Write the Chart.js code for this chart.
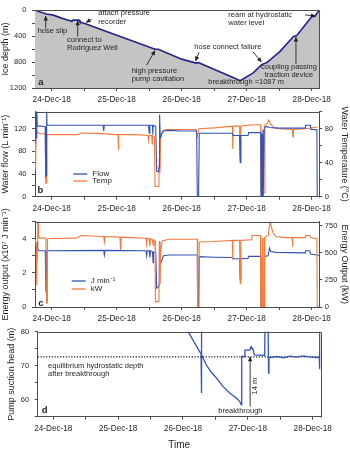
<!DOCTYPE html>
<html><head><meta charset="utf-8">
<script src="https://cdn.jsdelivr.net/npm/chart.js@4/dist/chart.umd.min.js"></script>
<style>
html,body{margin:0;padding:0;background:#fff;}
#wrap{position:relative;width:350px;height:449px;overflow:hidden;background:#fff;}
canvas{position:absolute;left:0;top:0;}
</style></head><body>
<div id="wrap">
<canvas id="ca" width="350" height="449"></canvas>
<canvas id="cb" width="350" height="449"></canvas>
<canvas id="cc" width="350" height="449"></canvas>
<canvas id="cd" width="350" height="449"></canvas>
</div>
<script>
// ---------- DATA (time in days after 24-Dec-18 00:00) ----------
const dayLabels = ['24-Dec-18', '25-Dec-18', '26-Dec-18', '27-Dec-18', '28-Dec-18'];
const halfDayTicks = [0, 0.5, 1, 1.5, 2, 2.5, 3, 3.5, 4];

// (a) ice depth
const depthDays   = [-0.257, -0.2, -0.13, -0.077, 0.025, 0.15, 0.23, 0.31, 0.33, 0.42, 0.435, 0.54, 1.0, 1.56, 1.59, 1.64, 2.0, 2.22, 2.25, 2.28, 2.30, 2.79, 2.9, 2.97, 3.1, 3.23, 3.31, 3.51, 3.72, 3.77, 4.0, 4.05, 4.117];
const depthValues = [0, 22, 46, 62, 79, 125, 149, 173, 155, 155, 183, 219, 390, 593, 602, 605, 756, 817, 810, 815, 828, 1037, 1087, 1046, 967, 840, 808, 640, 406, 394, 103, 95, 0];

// (b) water flow (L/min) and water temperature (degC)
const flowDays   = [-0.257, -0.25, -0.245, -0.24, -0.232, -0.228, -0.222, -0.10, -0.092, -0.085, -0.078, -0.072, 0.79, 0.80, 0.81, 1.49, 1.50, 1.51, 1.55, 1.555, 1.56, 1.60, 1.615, 1.64, 1.655, 1.66, 1.67, 1.68, 1.72, 1.8, 2.0, 2.23, 2.24, 2.26, 2.27, 2.5, 2.78, 2.79, 2.89, 2.9, 2.91, 3.02, 3.03, 3.215, 3.22, 3.23, 3.235, 3.245, 3.25, 3.255, 3.265, 3.27, 3.3, 3.35, 3.5, 3.9, 3.905, 3.98, 3.985, 4.08, 4.085, 4.117];
const flowValues = [105, 100, 155, 105, 104, 155, 125, 124, 36, 38, 155, 126, 126, 116, 126, 126, 112, 126, 126, 110, 126, 124, 45, 44, 53, 145, 104, 108, 116, 117, 116, 116, 0, 0, 112, 112, 112, 108, 108, 60, 108, 108, 113, 113, 0, 110, 0, 0, 118, 0, 0, 122, 124, 122, 121, 121, 126, 126, 119, 118, 0, 0];
const tempDays   = [-0.257, -0.25, -0.245, -0.24, -0.23, -0.22, -0.19, -0.10, -0.09, -0.08, -0.075, 0.0, 0.4, 0.45, 0.7, 1.0, 1.02, 1.025, 1.03, 1.3, 1.48, 1.49, 1.50, 1.54, 1.545, 1.55, 1.58, 1.59, 1.65, 1.655, 1.665, 1.675, 1.7, 1.75, 2.0, 2.22, 2.235, 2.26, 2.27, 2.5, 2.78, 2.785, 2.79, 2.89, 2.9, 2.905, 2.91, 3.0, 3.2, 3.215, 3.22, 3.27, 3.28, 3.32, 3.34, 3.36, 3.42, 3.5, 3.7, 3.715, 3.72, 3.9, 4.0, 4.085];
const tempValues = [77, 75, 32, 78, 77, 76, 74, 74, 16, 16, 73, 73, 73, 75, 74.5, 73, 73, 55, 73, 73, 72, 66, 72, 72, 62, 72, 70, 12, 12, 45, 28, 70, 77, 79, 79, 79, 70, 78, 80, 81, 83, 56, 83, 83, 44, 52, 83, 84, 85, 84, 5, 5, 84, 87, 90, 86, 81, 80, 79, 70, 79, 80, 81, 82];

// (c) energy output (x10^7 J/min) and (kW)
const jDays   = [-0.257, -0.25, -0.245, -0.235, -0.228, -0.22, -0.215, -0.2, -0.10, -0.09, -0.08, -0.075, 0.8, 0.81, 0.82, 1.45, 1.46, 1.47, 1.5, 1.51, 1.52, 1.55, 1.56, 1.565, 1.60, 1.615, 1.65, 1.655, 1.66, 1.665, 1.68, 1.72, 1.8, 2.0, 2.24, 2.245, 2.26, 2.27, 2.5, 2.78, 2.79, 2.89, 2.9, 2.91, 3.02, 3.03, 3.215, 3.22, 3.265, 3.27, 3.33, 3.35, 3.37, 3.45, 3.9, 3.905, 3.97, 3.98, 4.08, 4.117];
const jValues = [2.8, 2.7, 3.1, 2.75, 3.6, 3.85, 3.4, 3.3, 3.3, 1.0, 1.1, 3.3, 3.32, 3.05, 3.32, 3.3, 3.0, 3.3, 3.3, 2.9, 3.3, 3.25, 2.6, 3.2, 3.2, 1.1, 1.2, 1.4, 3.85, 2.6, 2.6, 3.0, 3.05, 3.05, 3.05, 0, 0, 2.95, 2.92, 2.9, 2.83, 2.83, 1.6, 2.83, 2.85, 2.97, 2.97, 0, 0, 2.97, 3.0, 3.45, 3.25, 3.2, 3.17, 3.3, 3.3, 3.1, 3.05, 3.02];
const kwDays   = [-0.257, -0.25, -0.235, -0.23, -0.225, -0.215, -0.21, -0.205, -0.2, -0.19, -0.09, -0.08, -0.07, -0.065, 0.0, 0.38, 0.45, 0.8, 0.81, 0.82, 1.05, 1.06, 1.07, 1.45, 1.46, 1.47, 1.5, 1.51, 1.52, 1.55, 1.56, 1.57, 1.59, 1.595, 1.65, 1.655, 1.665, 1.675, 1.7, 1.8, 2.0, 2.24, 2.245, 2.265, 2.27, 2.5, 2.78, 2.785, 2.79, 2.89, 2.9, 2.91, 3.07, 3.08, 3.21, 3.215, 3.235, 3.24, 3.25, 3.27, 3.275, 3.33, 3.36, 3.37, 3.40, 3.45, 3.6, 3.7, 3.705, 3.71, 3.9, 3.905, 3.97, 3.98, 4.08, 4.085, 4.117];
const kwValues = [620, 600, 590, 200, 600, 820, 640, 800, 660, 635, 635, 35, 40, 630, 632, 635, 660, 650, 600, 650, 645, 526, 645, 635, 580, 635, 630, 560, 630, 620, 570, 620, 610, 50, 50, 590, 205, 500, 610, 625, 625, 625, 0, 0, 600, 605, 615, 435, 615, 615, 214, 615, 620, 660, 660, 0, 0, 640, 0, 0, 640, 660, 787, 770, 690, 650, 640, 640, 556, 640, 640, 660, 660, 640, 630, 0, 0];

// (d) pump suction head (m)
const headDays   = [1.98, 2.07, 2.17, 2.257, 2.278, 2.282, 2.286, 2.29, 2.36, 2.44, 2.514, 2.615, 2.718, 2.822, 2.87, 2.898, 2.905, 2.95, 2.955, 3.03, 3.05, 3.08, 3.10, 3.18, 3.26, 3.265, 3.31, 3.32, 3.325, 3.35, 3.45, 3.55, 3.65, 3.75, 3.85, 3.95, 4.05, 4.10, 4.105, 4.11];
const headValues = [84, 80.3, 77, 74.1, 73.6, 84, 62, 73.2, 70.2, 68.0, 66.4, 63.9, 62.0, 60.5, 59.6, 58.5, 72.7, 72.7, 74.6, 74.6, 75.6, 74.8, 73.2, 73.1, 73.0, 85, 85, 67.8, 72.5, 72.4, 72.7, 72.3, 72.8, 72.5, 72.9, 72.6, 72.4, 72.6, 69, 82];
const equilibriumHead = 72.6;

// ---------- STYLE ----------
const TXT = '#231f20', AX = '#4d4d4d';
const BLUE = '#3453b4', ORANGE = '#f47b3c', NAVY = '#23258a', FILLGRAY = '#c4c4c4';
Chart.defaults.font.family = "'Liberation Sans', Arial, sans-serif";
Chart.defaults.color = TXT;
Chart.defaults.animation = false;

function pts(xs, ys) { return xs.map((x, i) => ({ x: x, y: ys[i] })); }

function xScale(min, max, h, withTitle) {
  return {
    type: 'linear', position: 'bottom', min: min, max: max,
    afterBuildTicks: s => { s.ticks = halfDayTicks.map(v => ({ value: v })); },
    afterFit: s => { s.height = h; },
    ticks: { autoSkip: false, maxRotation: 0, minRotation: 0, padding: 4, color: TXT, font: { size: 8.2 },
      callback: v => (Number.isInteger(v) ? dayLabels[v] : '') },
    grid: { drawOnChartArea: false, drawTicks: true, tickLength: 3, color: AX },
    border: { display: true, color: AX, width: 1 },
    title: withTitle ? { display: true, text: 'Time', color: TXT, font: { size: 10, lineHeight: 1 }, padding: { top: 0, bottom: -1 } } : { display: false }
  };
}
function yScale(pos, min, max, tickVals, labelFn, width, title, titlePad, extra) {
  const o = {
    type: 'linear', position: pos, min: min, max: max,
    afterBuildTicks: s => { s.ticks = tickVals.map(v => ({ value: v })); },
    afterFit: s => { s.width = width; },
    ticks: { autoSkip: false, padding: pos === 'left' ? 5.5 : 2.5, color: TXT, font: { size: 7.5 }, callback: labelFn },
    grid: { drawOnChartArea: false, drawTicks: true, tickLength: 3, color: AX },
    border: { display: true, color: AX, width: 1 },
    title: { display: true, text: title, color: TXT, font: { size: 9 }, padding: { top: titlePad, bottom: 0 } }
  };
  return Object.assign(o, extra || {});
}
const boxPlugin = {
  id: 'box',
  afterDraw(chart) {
    const c = chart.ctx, a = chart.chartArea;
    c.save(); c.strokeStyle = AX; c.lineWidth = 1;
    c.beginPath();
    c.moveTo(Math.round(a.left) + 0.5, Math.round(a.top) + 0.5);
    c.lineTo(Math.round(a.right) + 0.5, Math.round(a.top) + 0.5);
    c.lineTo(Math.round(a.right) + 0.5, Math.round(a.bottom) + 0.5);
    c.stroke(); c.restore();
  }
};
function arrowHead(c, x1, y1, x2, y2) {
  const ang = Math.atan2(y2 - y1, x2 - x1), L = 4.5, W = 2.2;
  c.beginPath();
  c.moveTo(x2, y2);
  c.lineTo(x2 - L * Math.cos(ang) + W * Math.sin(ang), y2 - L * Math.sin(ang) - W * Math.cos(ang));
  c.lineTo(x2 - L * Math.cos(ang) - W * Math.sin(ang), y2 - L * Math.sin(ang) + W * Math.cos(ang));
  c.closePath(); c.fill();
}
function annot(items) {
  return {
    id: 'annot',
    afterDraw(chart) {
      const c = chart.ctx, sx = chart.scales.x, sy = chart.scales.y, a = chart.chartArea;
      c.save();
      items.forEach(it => {
        if (it.kind === 'text') {
          const px = it.rel ? a.left + it.x : sx.getPixelForValue(it.x);
          const py = it.rel ? a.bottom - it.y : sy.getPixelForValue(it.y);
          c.font = (it.bold ? 'bold ' : '') + (it.size || 7.5) + "px 'Liberation Sans', Arial, sans-serif";
          c.fillStyle = TXT; c.textAlign = it.align || 'left'; c.textBaseline = 'middle';
          if (it.rot) { c.save(); c.translate(px, py); c.rotate(it.rot); c.fillText(it.text, 0, 0); c.restore(); }
          else c.fillText(it.text, px, py);
        } else if (it.kind === 'arrow') {
          const x1 = sx.getPixelForValue(it.x1), y1 = sy.getPixelForValue(it.y1);
          const x2 = sx.getPixelForValue(it.x2), y2 = sy.getPixelForValue(it.y2);
          c.strokeStyle = TXT; c.fillStyle = TXT; c.lineWidth = 0.9;
          c.beginPath(); c.moveTo(x1, y1); c.lineTo(x2, y2); c.stroke();
          arrowHead(c, x1, y1, x2, y2);
        } else if (it.kind === 'legend') {
          c.font = "8px 'Liberation Sans', Arial, sans-serif";
          c.textAlign = 'left'; c.textBaseline = 'middle';
          it.rows.forEach((r, i) => {
            const y = a.top + it.y + i * it.dy;
            c.strokeStyle = r.color; c.lineWidth = 1.3;
            c.beginPath(); c.moveTo(a.left + it.x, y); c.lineTo(a.left + it.x + 14, y); c.stroke();
            c.fillStyle = TXT; c.fillText(r.label, a.left + it.x + 19, y);
          });
        }
      });
      c.restore();
    }
  };
}
const lineDs = (label, data, color, axis, w) => ({ label: label, data: data, borderColor: color, borderWidth: w || 1.1, pointRadius: 0, tension: 0, fill: false, yAxisID: axis || 'y' });

// ---------- PANEL A ----------
new Chart(document.getElementById('ca'), {
  type: 'line',
  data: { datasets: [Object.assign(lineDs('Ice depth', pts(depthDays, depthValues), NAVY, 'y', 1.6), { fill: 'start', backgroundColor: FILLGRAY })] },
  options: {
    responsive: false, parsing: true,
    layout: { padding: { top: 2.7, bottom: 449 - 88 - 20, left: 0, right: 30.7 } },
    plugins: { legend: { display: false }, tooltip: { enabled: false } },
    scales: {
      x: xScale(-0.257, 4.117, 20, false),
      y: yScale('left', 0, 1200, [0, 200, 400, 600, 800, 1000, 1200], v => (v % 400 === 0 ? String(v) : ''), 35, 'Ice depth (m)', 0, { reverse: true })
    }
  },
  plugins: [boxPlugin, annot([
    { kind: 'text', text: 'hose slip', x: 0.012, y: 328, align: 'center' },
    { kind: 'arrow', x1: -0.092, y1: 286, x2: -0.092, y2: 93 },
    { kind: 'text', text: 'connect to', x: 0.235, y: 454 },
    { kind: 'text', text: 'Rodriguez Well', x: 0.235, y: 581 },
    { kind: 'arrow', x1: 0.4, y1: 408, x2: 0.4, y2: 165 },
    { kind: 'text', text: 'attach pressure', x: 0.717, y: 46 },
    { kind: 'text', text: 'recorder', x: 0.717, y: 187 },
    { kind: 'arrow', x1: 0.615, y1: 141, x2: 0.528, y2: 192 },
    { kind: 'text', text: 'high pressure', x: 1.23, y: 933 },
    { kind: 'text', text: 'pump cavitation', x: 1.23, y: 1055 },
    { kind: 'arrow', x1: 1.46, y1: 848, x2: 1.59, y2: 623 },
    { kind: 'text', text: 'hose connect failure', x: 2.194, y: 563 },
    { kind: 'arrow', x1: 2.266, y1: 651, x2: 2.212, y2: 785 },
    { kind: 'arrow', x1: 3.097, y1: 644, x2: 3.228, y2: 800 },
    { kind: 'text', text: 'coupling passing', x: 3.65, y: 877, align: 'center' },
    { kind: 'text', text: 'traction device', x: 3.65, y: 993, align: 'center' },
    { kind: 'arrow', x1: 3.758, y1: 830, x2: 3.758, y2: 415 },
    { kind: 'text', text: 'ream at hydrostatic', x: 2.717, y: 79 },
    { kind: 'text', text: 'water level', x: 2.717, y: 197 },
    { kind: 'arrow', x1: 3.897, y1: 75, x2: 4.058, y2: 93 },
    { kind: 'text', text: 'breakthrough =1087 m', x: 2.41, y: 1111 },
    { kind: 'text', text: 'a', x: 3.3, y: 6, rel: true, bold: true, size: 9.5 }
  ])]
});

// ---------- PANEL B ----------
new Chart(document.getElementById('cb'), {
  type: 'line',
  data: { datasets: [
    lineDs('Flow', pts(flowDays, flowValues), BLUE, 'y'),
    lineDs('Temp', pts(tempDays, tempValues), ORANGE, 'y2')
  ] },
  options: {
    responsive: false,
    layout: { padding: { top: 111.7, bottom: 449 - 196.7 - 20, left: 0, right: 0 } },
    plugins: { legend: { display: false }, tooltip: { enabled: false } },
    scales: {
      x: xScale(-0.257, 4.117, 20, false),
      y: yScale('left', 0, 150, [0, 20, 40, 60, 80, 100, 120, 140], v => (v % 40 === 0 ? String(v) : ''), 35, 'Water flow (L min\u207B\u00B9)', 0),
      y2: yScale('right', 0, 100, [0, 20, 40, 60, 80, 100], v => (v % 40 === 0 ? String(v) : ''), 30.7, 'Water Temperature (\u00B0C)', 0)
    }
  },
  plugins: [boxPlugin, annot([
    { kind: 'legend', x: 38.3, y: 62.3, dy: 7, rows: [{ color: BLUE, label: 'Flow' }, { color: ORANGE, label: 'Temp' }] },
    { kind: 'text', text: 'b', x: 2.5, y: 6.5, rel: true, bold: true, size: 9.5 }
  ])]
});

// ---------- PANEL C ----------
new Chart(document.getElementById('cc'), {
  type: 'line',
  data: { datasets: [
    lineDs('kW', pts(kwDays, kwValues), ORANGE, 'y2'),
    lineDs('J min-1', pts(jDays, jValues), BLUE, 'y')
  ] },
  options: {
    responsive: false,
    layout: { padding: { top: 221.7, bottom: 449 - 307 - 20, left: 0, right: 0 } },
    plugins: { legend: { display: false }, tooltip: { enabled: false } },
    scales: {
      x: xScale(-0.257, 4.117, 20, false),
      y: yScale('left', 0, 5, [0, 1, 2, 3, 4, 5], v => (v % 2 === 0 ? String(v) : ''), 35, 'Energy output (x10\u2077 J min\u207B\u00B9)', 0),
      y2: yScale('right', 0, 787, [0, 250, 500, 750], v => String(v), 30.7, 'Energy Output (kW)', 0)
    }
  },
  plugins: [boxPlugin, annot([
    { kind: 'legend', x: 36.7, y: 59.3, dy: 8, rows: [{ color: BLUE, label: 'J min\u207B\u00B9' }, { color: ORANGE, label: 'kW' }] },
    { kind: 'text', text: 'c', x: 3.3, y: 4, rel: true, bold: true, size: 9.5 }
  ])]
});

// ---------- PANEL D ----------
new Chart(document.getElementById('cd'), {
  type: 'line',
  data: { datasets: [
    lineDs('Head', pts(headDays, headValues), BLUE, 'y', 1.3),
    Object.assign(lineDs('Equilibrium', [{ x: -0.24, y: equilibriumHead }, { x: 4.123, y: equilibriumHead }], '#111', 'y', 1.1), { borderDash: [1.2, 1.6] })
  ] },
  options: {
    responsive: false,
    layout: { padding: { top: 331.7, bottom: 0, left: 0, right: 29.3 } },
    plugins: { legend: { display: false }, tooltip: { enabled: false } },
    scales: {
      x: xScale(-0.24, 4.123, 32.3, true),
      y: yScale('left', 55, 80, [55, 60, 65, 70, 75, 80], v => (v % 10 === 0 ? String(v) : ''), 37.7, 'Pump suction head (m)', 6.3)
    }
  },
  plugins: [boxPlugin, annot([
    { kind: 'text', text: 'equilibrium hydrostatic depth', x: -0.08, y: 70.0 },
    { kind: 'text', text: 'after breakthrough', x: -0.08, y: 67.6 },
    { kind: 'text', text: 'breakthrough', x: 2.544, y: 56.8 },
    { kind: 'arrow', x1: 3.035, y1: 58.0, x2: 3.035, y2: 72.6 },
    { kind: 'text', text: '14 m', x: 3.11, y: 64, align: 'center', rot: -Math.PI / 2 },
    { kind: 'text', text: 'd', x: 4, y: 6.5, rel: true, bold: true, size: 9.5 }
  ])]
});
</script>
</body></html>
